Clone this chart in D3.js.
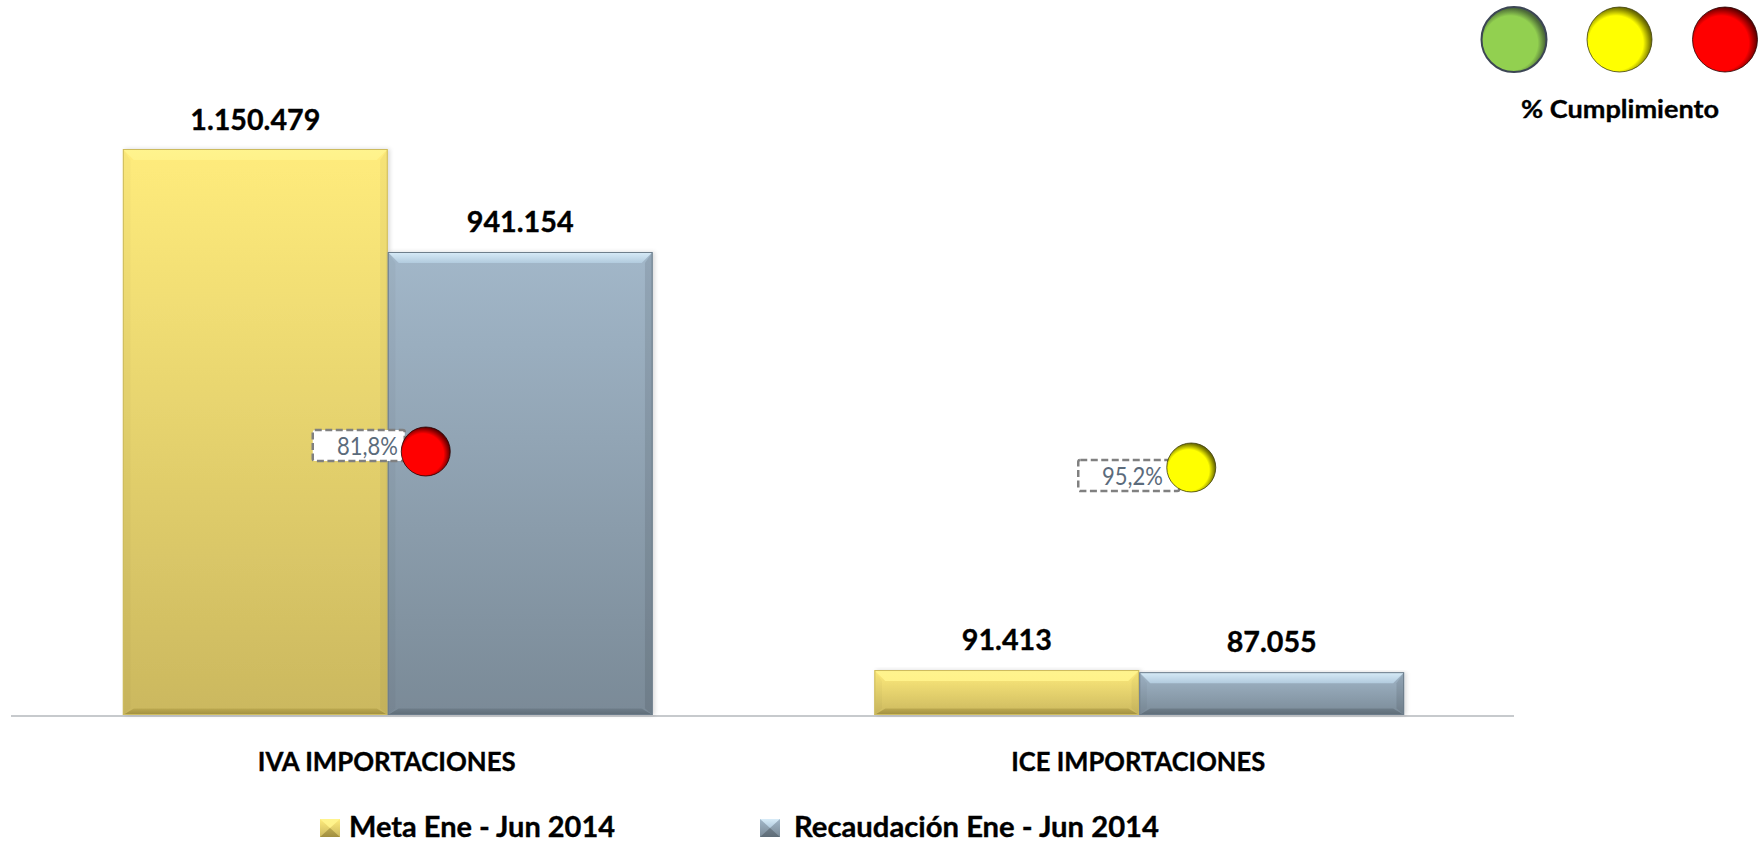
<!DOCTYPE html>
<html><head><meta charset="utf-8">
<script src="https://cdnjs.cloudflare.com/ajax/libs/d3/7.8.5/d3.min.js"></script>
<style>html,body{margin:0;padding:0;background:#fff}svg{display:block}text{font-family:Lato,"Open Sans",sans-serif}</style>
</head><body><svg id="c" width="1759" height="842"></svg>
<script>
const categories=["IVA IMPORTACIONES","ICE IMPORTACIONES"];
const seriesNames=["Meta Ene - Jun 2014","Recaudación Ene - Jun 2014"];
const meta=[1150479,91413];
const recaudacion=[941154,87055];
const cumplimiento=["81,8%","95,2%"];
const cumplimientoColor=["red","yellow"];
const legendLights=["green","yellow","red"];
const legendTitle="% Cumplimiento";

const svg=d3.select("#c"),defs=svg.append("defs");
const x=d3.scaleBand().domain(categories).range([12,1515]).paddingInner(0.295).paddingOuter(0.1475);
const x1=d3.scaleBand().domain([0,1]).range([0,x.bandwidth()]);
const y=d3.scaleLinear().domain([0,1150479]).range([715,149]);
const fmt=v=>d3.format(",")(v).replace(/,/g,".");

function lin(id,stops,vert=true){
  const g=defs.append("linearGradient").attr("id",id).attr("x1",0).attr("y1",0).attr("x2",vert?0:1).attr("y2",vert?1:0);
  stops.forEach(s=>g.append("stop").attr("offset",s[0]).attr("stop-color",s[1]));
}
const pal=[
 {main:["#FFEC7C","#CBB85F"],top:["#FFF48E","#FFF28A"],bot:["#BCA950","#A08E3F"],edge:"#CDBB5E"},
 {main:["#A2B7C9","#7A8A97"],top:["#D8ECF8","#B2CBDE"],bot:["#6E7D89","#5E6C77"],edge:"#6C7C8A"}
];
pal.forEach((p,i)=>{lin("main"+i,[[0,p.main[0]],[1,p.main[1]]]);lin("top"+i,[[0,p.top[0]],[1,p.top[1]]]);lin("bot"+i,[[0,p.bot[0]],[1,p.bot[1]]]);});
const sh=defs.append("filter").attr("id","sh").attr("x","-5%").attr("y","-5%").attr("width","110%").attr("height","110%");
sh.append("feDropShadow").attr("dx",2).attr("dy",0).attr("stdDeviation",2).attr("flood-color","#000").attr("flood-opacity",.15);

function bevelBar(g,bx,by,w,h,i,b){
  const p=pal[i],r=g.append("g").attr("filter","url(#sh)");
  r.append("rect").attr("x",bx).attr("y",by).attr("width",w).attr("height",h).attr("fill",`url(#main${i})`);
  const poly=(pts,f,o=1)=>g.append("polygon").attr("points",pts.map(d=>d.join(",")).join(" ")).attr("fill",f).attr("opacity",o);
  const X=bx+w,Y=by+h,bb=b*.6;
  poly([[bx,by],[bx+b*.7,by+b],[bx+b*.7,Y-bb],[bx,Y]],"#000",i?0.03:0.025);
  poly([[X,by],[X-b*.7,by+b],[X-b*.7,Y-bb],[X,Y]],"#000",i?0.09:0.035);
  poly([[bx,by],[X,by],[X-b,by+b],[bx+b,by+b]],`url(#top${i})`);
  poly([[bx,Y],[X,Y],[X-b,Y-bb],[bx+b,Y-bb]],`url(#bot${i})`);
  g.append("rect").attr("x",bx+.5).attr("y",by+.5).attr("width",w-1).attr("height",h-1).attr("fill","none").attr("stroke",p.edge).attr("stroke-width",1);
}
function fit(sel,w){return sel.attr("textLength",w).attr("lengthAdjust","spacingAndGlyphs");}
const bold=s=>s.attr("font-weight",700).attr("fill","#000").attr("stroke","#000").attr("stroke-width",.35);

// axis line
svg.append("line").attr("x1",11).attr("x2",1514).attr("y1",y(0)+1).attr("y2",y(0)+1).attr("stroke","#B5B8BC").attr("stroke-width",1.5);

const labelW=[[130,107],[90,90]];
const labelBase=[[130,232],[650,652]];
categories.forEach((c,k)=>{
  [meta,recaudacion].forEach((s,i)=>{
    const bx=x(c)+x1(i),w=x1.bandwidth(),by=y(s[k]),g=svg.append("g");
    bevelBar(g,bx,by,w,y(0)-by,i,11);
    fit(bold(svg.append("text").attr("x",bx+w/2).attr("y",labelBase[k][i]).attr("text-anchor","middle")
      .attr("font-size",29)).text(fmt(s[k])),labelW[k][i]);
  });
  fit(bold(svg.append("text").attr("x",x(c)+x.bandwidth()/2-1).attr("y",771).attr("text-anchor","middle")
    .attr("font-size",26)).text(c),k?254:258);
});

// spheres
const sphere={
 red:{base:"#FF0000",dark:"#7A0000",hi:"#D08080",edge:"#2a0000"},
 yellow:{base:"#FFFF00",dark:"#7E7E00",hi:"#FFFFC0",edge:"#3f3f08"},
 green:{base:"#92D050",dark:"#4F6F38",hi:"#BFF07A",edge:"#3C4654"}
};
Object.entries(sphere).forEach(([k,s])=>{
  const g=defs.append("radialGradient").attr("id","sp"+k).attr("cx",.45).attr("cy",.55).attr("r",.6).attr("fx",.43).attr("fy",.57);
  g.append("stop").attr("offset",0).attr("stop-color",s.base);
  g.append("stop").attr("offset",.7).attr("stop-color",s.base);
  g.append("stop").attr("offset",.88).attr("stop-color",s.dark);
  g.append("stop").attr("offset",1).attr("stop-color",s.edge);
  const h=defs.append("linearGradient").attr("id","hi"+k).attr("x1",1).attr("y1",0).attr("x2",.4).attr("y2",.5);
  h.append("stop").attr("offset",0).attr("stop-color",s.hi).attr("stop-opacity",.85);
  h.append("stop").attr("offset",.5).attr("stop-color",s.hi).attr("stop-opacity",0);
});
function light(cx,cy,r,k){
  const g=svg.append("g");
  g.append("circle").attr("cx",cx).attr("cy",cy).attr("r",r).attr("fill",`url(#sp${k})`).attr("stroke",sphere[k].edge).attr("stroke-width",k==="green"?2:.8);
  g.append("path").attr("d",d3.arc()({innerRadius:r*.76,outerRadius:r*.96,startAngle:.3,endAngle:1.2,cornerRadius:3})).attr("transform",`translate(${cx},${cy})`).attr("fill",`url(#hi${k})`);
}
const legendX=d3.scalePoint().domain(legendLights).range([1514,1725]);
legendLights.forEach(k=>light(legendX(k),39.5,32.5,k));
fit(bold(svg.append("text").attr("x",1620).attr("y",118).attr("text-anchor","middle").attr("font-size",25)).text(legendTitle),198);

// compliance callouts
const boxes=[{dx:-75,y:430,h:31,w:92,te:398,cx:38,cy:451.5},{dx:-61,y:460,h:31,w:101,te:1163,cx:52,cy:467.5}];
categories.forEach((c,k)=>{
  const m=x(c)+x.bandwidth()/2,b=boxes[k],bx=m+b.dx;
  svg.append("rect").attr("x",bx).attr("y",b.y).attr("width",b.w).attr("height",b.h).attr("rx",2).attr("fill","#fff").attr("stroke","#808080").attr("stroke-width",2.5).attr("stroke-dasharray","7 3.5");
  fit(svg.append("text").attr("x",b.te).attr("y",b.y+24.5).attr("text-anchor","end").attr("font-size",25).attr("fill","#5B6B7B").text(cumplimiento[k]),61);
  light(m+b.cx,b.cy,24.5,cumplimientoColor[k]);
});

// legend
const legX=[320,760],legT=[349,794],legW=[266,365];
seriesNames.forEach((n,i)=>{
  const g=svg.append("g");
  const bx=legX[i],by=819,s=18;
  g.append("rect").attr("x",bx).attr("y",by).attr("width",s+2).attr("height",s).attr("fill",`url(#main${i})`);
  const X=bx+s+2,Y=by+s,mx=bx+(s+2)/2,my=by+s/2;
  g.append("polygon").attr("points",`${bx},${by} ${X},${by} ${mx},${my}`).attr("fill",`url(#top${i})`);
  g.append("polygon").attr("points",`${bx},${Y} ${X},${Y} ${mx},${my}`).attr("fill",`url(#bot${i})`);
  fit(bold(svg.append("text").attr("x",legT[i]).attr("y",837).attr("font-size",29)).text(n),legW[i]);
});
</script></body></html>
